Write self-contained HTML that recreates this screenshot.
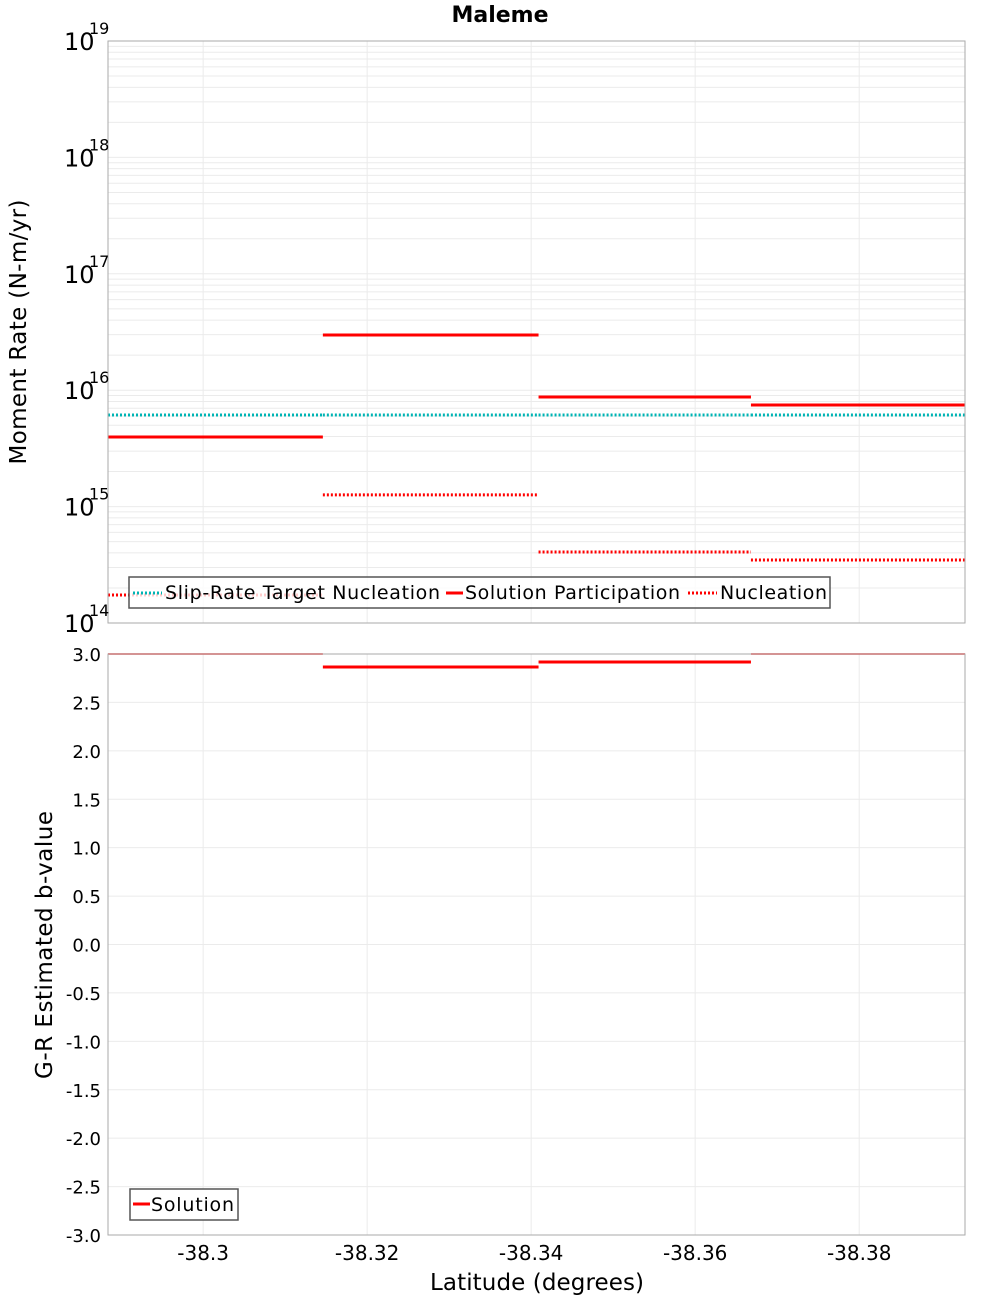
<!DOCTYPE html>
<html><head><meta charset="utf-8"><style>
body{margin:0;background:#fff;font-family:"DejaVu Sans","Liberation Sans",sans-serif}
svg text{font-family:"DejaVu Sans","Liberation Sans",sans-serif}
</style></head><body>
<svg id="c" width="1000" height="1300" xmlns="http://www.w3.org/2000/svg"></svg>
<script>
const segStart=[-38.2884,-38.3146,-38.3409,-38.3668];
const segEnd=[-38.3146,-38.3409,-38.3668,-38.3929];
const participation=[3.96e15,2.98e16,8.74e15,7.46e15];
const nucleation=[1.74e14,1.26e15,4.07e14,3.48e14];
const targetNucleation=[6.12e15,6.12e15,6.12e15,6.12e15];
const bValues=[3.0,2.866,2.917,3.0];
const xTicks=[-38.3,-38.32,-38.34,-38.36,-38.38];
const xTickLabels=["-38.3","-38.32","-38.34","-38.36","-38.38"];
const logTicks=[14,15,16,17,18,19];
const bTicks=[3,2.5,2,1.5,1,0.5,0,-0.5,-1,-1.5,-2,-2.5,-3];
const bTickLabels=["3.0","2.5","2.0","1.5","1.0","0.5","0.0","-0.5","-1.0","-1.5","-2.0","-2.5","-3.0"];

const L=108,R=965,T1=41,B1=623,T2=654,B2=1235;
const latMin=-38.2884,latMax=-38.3929;
const X=v=>L+(v-latMin)/(latMax-latMin)*(R-L);
const Y1=v=>B1-(Math.log10(v)-14)/5*(B1-T1);
const Y2=v=>B2-(v+3)/6*(B2-T2);
const svg=document.getElementById('c');
const NS="http://www.w3.org/2000/svg";
function el(tag,attrs,name,parent){const e=document.createElementNS(NS,tag);for(const k in attrs)e.setAttribute(k,attrs[k]);


(parent||svg).appendChild(e);return e;}
function txt(x,y,s,attrs,name){const t=el('text',Object.assign({x:x,y:y},attrs),name);t.textContent=s;return t;}

el('rect',{x:L,y:T1,width:R-L,height:B1-T1,fill:'#fff',stroke:'none'},'top-plot-area');
el('rect',{x:L,y:T2,width:R-L,height:B2-T2,fill:'#fff',stroke:'none'},'bottom-plot-area');
for(let d=14;d<19;d++)for(let m=1;m<10;m++){const y=Y1(m*Math.pow(10,d));
el('line',{x1:L,x2:R,y1:y,y2:y,stroke:'#ebebeb','stroke-width':1},'top-gridline');}
for(const v of bTicks){const y=Y2(v);el('line',{x1:L,x2:R,y1:y,y2:y,stroke:'#ebebeb','stroke-width':1},'bottom-gridline');}
for(const v of xTicks){const x=X(v);
el('line',{x1:x,x2:x,y1:T1,y2:B1,stroke:'#ebebeb'},'top-x-gridline');
el('line',{x1:x,x2:x,y1:T2,y2:B2,stroke:'#ebebeb'},'bottom-x-gridline');}

for(let i=0;i<segStart.length;i++){
el('line',{x1:X(segStart[i]),x2:X(segEnd[i]),y1:Y1(nucleation[i]),y2:Y1(nucleation[i]),stroke:'#ff0000','stroke-width':3,'stroke-dasharray':'2,2'},'nucleation-segment');
el('line',{x1:X(segStart[i]),x2:X(segEnd[i]),y1:Y1(targetNucleation[i]),y2:Y1(targetNucleation[i]),stroke:'#00b4b4','stroke-width':3,'stroke-dasharray':'2,2'},'target-nucleation-segment');
el('line',{x1:X(segStart[i]),x2:X(segEnd[i]),y1:Y1(participation[i]),y2:Y1(participation[i]),stroke:'#ff0000','stroke-width':3},'participation-segment');
const w=bValues[i]>=2.99?1.5:3;
el('line',{x1:X(segStart[i]),x2:X(segEnd[i]),y1:Y2(bValues[i]),y2:Y2(bValues[i]),stroke:'#ff0000','stroke-width':w},'b-value-segment');
}
el('rect',{x:L,y:T1,width:R-L,height:B1-T1,fill:'none',stroke:'#aaa'},'top-plot-frame');
el('rect',{x:L,y:T2,width:R-L,height:B2-T2,fill:'none',stroke:'#aaa'},'bottom-plot-frame');

el('rect',{x:129,y:577,width:701,height:31,fill:'rgba(255,255,255,0.8)',stroke:'#555','stroke-width':1.5},'top-legend');
el('line',{x1:133,x2:162,y1:593,y2:593,stroke:'#00b4b4','stroke-width':3,'stroke-dasharray':'2,2'},'legend-target-swatch');
txt(165,599,'Slip-Rate Target Nucleation',{'font-size':19,textLength:275},'legend-target-label');
el('line',{x1:446,x2:463,y1:593,y2:593,stroke:'#ff0000','stroke-width':3},'legend-participation-swatch');
txt(465,599,'Solution Participation',{'font-size':19,textLength:215},'legend-participation-label');
el('line',{x1:688,x2:717,y1:593,y2:593,stroke:'#ff0000','stroke-width':3,'stroke-dasharray':'2,2'},'legend-nucleation-swatch');
txt(720,599,'Nucleation',{'font-size':19,textLength:107},'legend-nucleation-label');
el('rect',{x:130,y:1189,width:108,height:31,fill:'#fff',stroke:'#555','stroke-width':1.5},'bottom-legend');
el('line',{x1:133,x2:150,y1:1204,y2:1204,stroke:'#ff0000','stroke-width':3},'legend-solution-swatch');
txt(151,1211,'Solution',{'font-size':19,textLength:83},'legend-solution-label');

for(const d of logTicks){const y=Y1(Math.pow(10,d));
txt(64,y+9,'10',{'font-size':24},'y-tick-label');
txt(89,y-7,String(d),{'font-size':16},'y-tick-exponent');}
bTicks.forEach((v,i)=>txt(101,Y2(v)+7,bTickLabels[i],{'font-size':18,'text-anchor':'end'},'b-tick-label'));
xTicks.forEach((v,i)=>txt(X(v),1260,xTickLabels[i],{'font-size':20,'text-anchor':'middle'},'x-tick-label'));

txt(500,22,'Maleme',{'font-size':22,'font-weight':'bold','text-anchor':'middle'},'chart-title');
txt(537,1290,'Latitude (degrees)',{'font-size':23,'text-anchor':'middle',textLength:214},'x-axis-title');
txt(0,0,'Moment Rate (N-m/yr)',{'font-size':23,'text-anchor':'middle',textLength:265,transform:'translate(26,332) rotate(-90)'},'top-y-axis-title');
txt(0,0,'G-R Estimated b-value',{'font-size':23,'text-anchor':'middle',textLength:268,transform:'translate(52,945) rotate(-90)'},'bottom-y-axis-title');
</script>
</body></html>
